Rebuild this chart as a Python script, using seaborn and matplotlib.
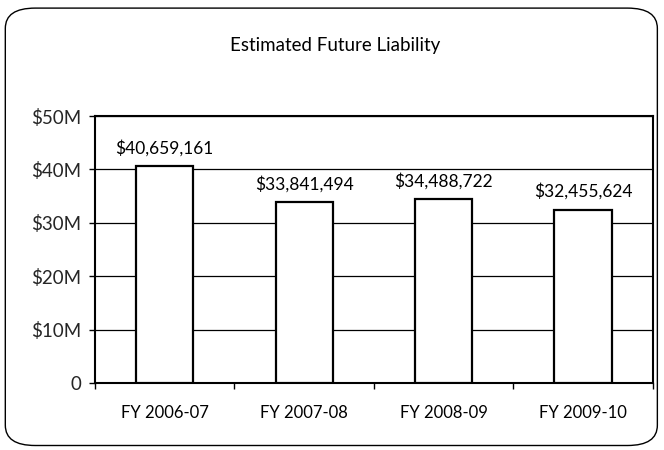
import matplotlib

matplotlib.use("Agg")
import matplotlib.pyplot as plt
from matplotlib.patches import FancyBboxPatch
from matplotlib.ticker import FuncFormatter, FixedLocator
import seaborn as sns

fiscal_years = ["FY 2006-07", "FY 2007-08", "FY 2008-09", "FY 2009-10"]
liability = [40659161, 33841494, 34488722, 32455624]
bar_labels = ["$40,659,161", "$33,841,494", "$34,488,722", "$32,455,624"]

sns.set_theme(style="white")
plt.rcParams["font.family"] = ["Lato", "DejaVu Sans"]

fig = plt.figure(figsize=(6.64, 4.5), dpi=100)
ax = fig.add_axes([0.143, 0.149, 0.84, 0.593])

sns.barplot(
    x=fiscal_years,
    y=liability,
    color="white",
    saturation=1,
    edgecolor="black",
    linewidth=1.6,
    width=0.41,
    ax=ax,
    zorder=3,
)

ax.set_ylim(0, 50_000_000)
ax.set_xlim(-0.5, 3.5)
ax.yaxis.set_major_locator(FixedLocator([0, 1e7, 2e7, 3e7, 4e7, 5e7]))
ax.yaxis.set_major_formatter(
    FuncFormatter(lambda v, _: "0" if v == 0 else f"${v / 1e6:.0f}M")
)
ax.grid(axis="y", color="black", linewidth=0.9, zorder=0)
ax.grid(axis="x", visible=False)
for spine in ax.spines.values():
    spine.set_color("black")
    spine.set_linewidth(1.5)

# category boundary ticks on x, labels at centres
ax.set_xticks([-0.5, 0.5, 1.5, 2.5, 3.5])
ax.set_xticklabels([])
ax.set_xticks([0, 1, 2, 3], minor=True)
ax.set_xticklabels(fiscal_years, minor=True)
ax.tick_params(axis="x", which="major", bottom=True, length=4, width=1, color="black")
ax.tick_params(axis="x", which="minor", bottom=False, labelsize=12, pad=12, colors="black")
ax.tick_params(axis="y", left=True, length=4, width=1, color="black", labelsize=13.5, pad=6)
ax.set_xlabel("")
ax.set_ylabel("")

for i, (val, text) in enumerate(zip(liability, bar_labels)):
    ax.annotate(
        text,
        (i, val),
        xytext=(0, 7),
        textcoords="offset points",
        ha="center",
        va="bottom",
        fontsize=12.5,
        color="black",
    )

fig.text(0.505, 1 - 45 / 450, "Estimated Future Liability", ha="center", va="center",
         fontsize=13.5, color="black")

frame = FancyBboxPatch(
    (0.008, 0.01), 0.982, 0.972,
    boxstyle="round,pad=0,rounding_size=0.045",
    transform=fig.transFigure,
    facecolor="none",
    edgecolor="black",
    linewidth=1.0,
)
fig.patches.append(frame)

fig.savefig("out.png", dpi=100, facecolor="white")
